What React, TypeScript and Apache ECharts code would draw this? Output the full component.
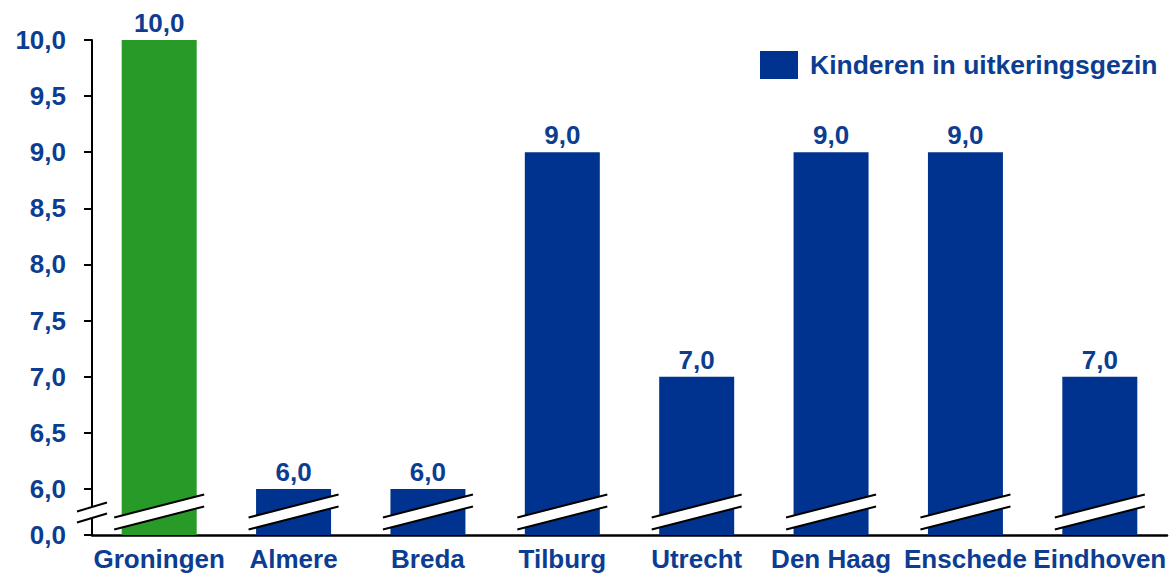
import React, { useEffect, useRef } from "react";
import * as echarts from "echarts";

const categories = ["Groningen", "Almere", "Breda", "Tilburg", "Utrecht", "Den Haag", "Enschede", "Eindhoven"];
const values = [10.0, 6.0, 6.0, 9.0, 7.0, 9.0, 9.0, 7.0];
const seriesName = "Kinderen in uitkeringsgezin";
const yTickValues = [0, 6, 6.5, 7, 7.5, 8, 8.5, 9, 9.5, 10];

// Broken axis: the bottom tick (0,0) sits at a pseudo position just below 6,0
const AXIS_BOTTOM = 5.59;
const BREAK_START = 6;
const BLUE = "#00338f";
const GREEN = "#279a28";
const TEXT_BLUE = "#0c3d91";
const FONT = "Arial, 'Liberation Sans', sans-serif";

const toAxis = (v: number) => (v < BREAK_START ? AXIS_BOTTOM : v);
const fmt = (v: number) => v.toFixed(1).replace(".", ",");

function breakShape(cx: number, cy: number, w: number, slope: number, gap: number) {
  const h = gap / 2;
  const d = slope * w;
  return [
    {
      type: "polygon",
      shape: {
        points: [
          [cx - w, cy - h + d],
          [cx + w, cy - h - d],
          [cx + w, cy + h - d],
          [cx - w, cy + h + d],
        ],
      },
      style: { fill: "#ffffff", stroke: "none" },
    },
    {
      type: "line",
      shape: { x1: cx - w, y1: cy - h + d, x2: cx + w, y2: cy - h - d },
      style: { stroke: "#000000", lineWidth: 2 },
    },
    {
      type: "line",
      shape: { x1: cx - w, y1: cy + h + d, x2: cx + w, y2: cy + h - d },
      style: { stroke: "#000000", lineWidth: 2 },
    },
  ];
}

export default function App() {
  const ref = useRef<HTMLDivElement>(null);
  useEffect(() => {
    document.body.style.margin = "0";
    const chart = echarts.init(ref.current!, null, { renderer: "svg" });
    const breakMid = (BREAK_START + AXIS_BOTTOM) / 2;
    const axisVals = yTickValues.map(toAxis);
    chart.setOption({
      animation: false,
      textStyle: { fontFamily: FONT },
      grid: { left: 92, right: 4, top: 40, bottom: 41, containLabel: false },
      legend: {
        data: [seriesName],
        left: 760,
        top: 51,
        padding: 0,
        itemWidth: 38,
        itemHeight: 28,
        icon: "rect",
        textStyle: {
          color: TEXT_BLUE,
          fontSize: 26.5,
          fontWeight: "bold",
          fontFamily: FONT,
          padding: [0, 0, 0, 7],
        },
      },
      xAxis: {
        type: "category",
        data: categories,
        axisLine: { show: true, lineStyle: { color: "#000", width: 2.5 } },
        axisTick: { show: false },
        axisLabel: {
          color: TEXT_BLUE,
          fontSize: 26,
          fontWeight: "bold",
          fontFamily: FONT,
          margin: 11,
          interval: 0,
        },
      },
      yAxis: {
        type: "value",
        min: AXIS_BOTTOM,
        max: 10,
        splitLine: { show: false },
        axisLine: { show: true, lineStyle: { color: "#000", width: 2 } },
        axisTick: {
          show: true,
          length: 8,
          lineStyle: { color: "#000", width: 2 },
          customValues: axisVals,
        },
        axisLabel: {
          color: TEXT_BLUE,
          fontSize: 26,
          fontWeight: "bold",
          fontFamily: FONT,
          margin: 26,
          customValues: axisVals,
          formatter: (v: number) => (v < BREAK_START ? fmt(0) : fmt(v)),
        },
      },
      series: [
        {
          name: seriesName,
          type: "bar",
          barWidth: 75,
          itemStyle: { color: BLUE },
          data: values.map((v, i) => ({
            value: v,
            itemStyle: i === 0 ? { color: GREEN } : undefined,
          })),
          label: {
            show: true,
            position: "top",
            distance: 4,
            color: TEXT_BLUE,
            fontSize: 26,
            fontWeight: "bold",
            fontFamily: FONT,
            formatter: (p: any) => fmt(p.value),
          },
          z: 2,
        },
        {
          type: "custom",
          name: "breaks",
          z: 10,
          silent: true,
          encode: { x: 0, y: 1 },
          data: categories.map((c, i) => [i, breakMid]),
          renderItem: (params: any, api: any) => {
            const pt = api.coord([api.value(0), api.value(1)]);
            const children: any[] = breakShape(pt[0], pt[1], 45, 0.256, 12);
            if (params.dataIndex === 0) {
              const ax = params.coordSys.x;
              children.push(...breakShape(ax, pt[1] + 0.5, 15, 0.3, 11));
            }
            return { type: "group", children };
          },
        },
      ],
    });
    return () => chart.dispose();
  }, []);
  return <div ref={ref} style={{ width: 1171, height: 576 }} />;
}
